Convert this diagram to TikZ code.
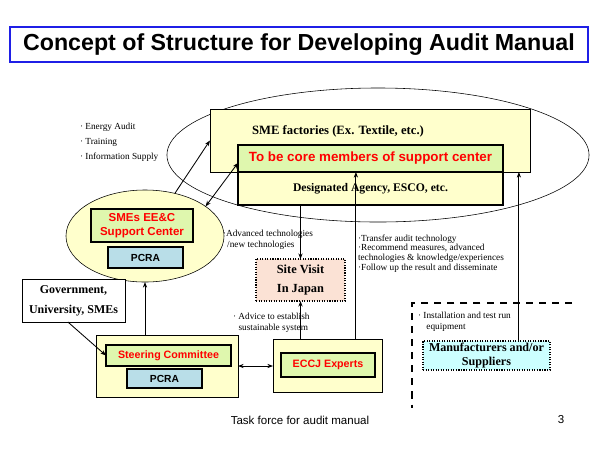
\documentclass[tikz,border=0pt]{standalone}
\usepackage{fontspec}
\setmainfont{Liberation Serif}
\setsansfont{Liberation Sans}
\usetikzlibrary{arrows.meta, positioning, shapes.geometric, calc}
\definecolor{boxyellow}{HTML}{FFFFCC}
\definecolor{boxgreen}{HTML}{DFF7AE}
\definecolor{boxblue}{HTML}{B9DEE8}
\definecolor{boxpeach}{HTML}{FBE2D5}
\definecolor{boxcyan}{HTML}{CCFFFF}
\definecolor{titleblue}{HTML}{1F1FE6}

\begin{document}
\begin{tikzpicture}[
    x=0.025cm, y=-0.025cm,
    every node/.style={inner sep=0pt, outer sep=0pt},
    panel/.style={rectangle, draw, fill=boxyellow},
    member/.style={rectangle, draw, line width=0.8pt, fill=boxgreen, text=red, align=center, font=\sffamily\bfseries\fontsize{7.6}{10}\selectfont},
    pcra/.style={rectangle, draw, line width=0.8pt, fill=boxblue, font=\sffamily\bfseries\fontsize{7.3}{9}\selectfont},
    party/.style={align=center, font=\bfseries\fontsize{8.5}{14.2}\selectfont},
    note/.style={anchor=west, align=left, font=\fontsize{6.6}{7.8}\selectfont},
    arrow/.style={-{Stealth[length=4pt, width=3pt]}, semithick},
    duoarrow/.style={{Stealth[length=4pt, width=3pt]}-{Stealth[length=4pt, width=3pt]}, semithick},
]
    \useasboundingbox (0,0) rectangle (600,450);

    % Title
    \node[draw=titleblue, line width=1pt, minimum width=14.45cm, minimum height=0.875cm,
          font=\sffamily\bfseries\fontsize{16.5}{19}\selectfont] (title) at (299,44.5)
          {Concept of Structure for Developing Audit Manual};

    % SME factories in the big ring
    \node[ellipse, draw, minimum width=10.55cm, minimum height=3.35cm] (ring) at (378,155) {};
    \node[panel, minimum width=8cm, minimum height=1.575cm] (sme) at (370,140.5) {};
    \node[font=\bfseries\fontsize{9}{11}\selectfont] (smetext) at (338,131) {SME factories (Ex. Textile, etc.)};
    \node[member, minimum width=6.625cm, minimum height=0.675cm, font=\sffamily\bfseries\fontsize{9.5}{11}\selectfont] (core) at (370.5,158.5) {To be core members of support center};
    \node[panel, line width=0.8pt, minimum width=6.625cm, minimum height=0.825cm, font=\bfseries\fontsize{8.3}{10}\selectfont] (agency) at (370.5,188.5) {Designated Agency, ESCO, etc.};

    % Support center
    \node[ellipse, draw, fill=boxyellow, minimum width=3.95cm, minimum height=2.3cm] (ctr) at (145,236) {};
    \node[member, minimum width=2.55cm, minimum height=0.825cm, font=\sffamily\bfseries\fontsize{8.2}{10}\selectfont] (support) at (142,225.5) {SMEs EE\&C\\Support Center};
    \node[pcra, minimum width=1.875cm, minimum height=0.525cm] (pcraA) at (145.5,257.5) {PCRA};
    \node[note, anchor=north west, font=\fontsize{6.6}{10.7}\selectfont] (tasks) at (80,123) {· Energy Audit\\· Training\\· Information Supply};

    % Steering committee and experts
    \node[rectangle, draw, fill=white, party, minimum width=2.575cm, minimum height=1.075cm] (gov) at (73.5,300.5) {Government,\\University, SMEs};
    \node[panel, minimum width=3.55cm, minimum height=1.55cm] (steer) at (167,366) {};
    \node[member, minimum width=3.125cm, minimum height=0.525cm] (committee) at (168.5,355.5) {Steering Committee};
    \node[pcra, minimum width=1.875cm, minimum height=0.475cm] (pcraB) at (164.5,378.5) {PCRA};
    \node[panel, minimum width=2.725cm, minimum height=1.325cm] (eccj) at (327.5,365.5) {};
    \node[member, minimum width=2.35cm, minimum height=0.6cm] (experts) at (328,365) {ECCJ Experts};
    \node[rectangle, draw, densely dotted, line width=0.8pt, fill=boxpeach, party, minimum width=2.225cm, minimum height=1.05cm,
          font=\bfseries\fontsize{8.8}{14.2}\selectfont] (site) at (300.5,280) {Site Visit\\In Japan};

    % Manufacturers
    \coordinate (frameA) at (412,408);
    \coordinate (frameB) at (412,303);
    \coordinate (frameC) at (572,303);
    \draw[line width=1.8pt, dash pattern=on 5pt off 4.3pt] (frameC) -- (frameB) -- (frameA);
    \node[rectangle, draw, densely dotted, line width=0.8pt, fill=boxcyan, party, minimum width=3.175cm, minimum height=0.725cm,
          font=\bfseries\fontsize{8.6}{10}\selectfont] (maker) at (486.5,355.5) {Manufacturers and/or\\Suppliers};

    % Notes
    \node[note] (advanced) at (223,239.5) {·Advanced technologies\\\hspace{3pt}/new technologies};
    \node[note] (advice) at (233,323) {· Advice to establish\\\hspace{4pt}sustainable system};
    \node[note, font=\fontsize{6.6}{6.9}\selectfont] (transfer) at (358,253.5) {·Transfer audit technology\\·Recommend measures, advanced\\technologies \& knowledge/experiences\\·Follow up the result and disseminate};
    \node[note] (install) at (418,321.5) {· Installation and test run\\\hspace{6pt}equipment};

    % Arrows
    \draw[arrow] (ctr.55) -- (sme.west);
    \draw[duoarrow] ([yshift=-0.11cm]core.west) -- (ctr.26);
    \draw[arrow] (steer.north -| ctr.south) -- (ctr.south);
    \draw[arrow] ([xshift=-0.14cm]gov.south) -- (committee.west);
    \draw[duoarrow] (steer.east) -- (steer.east -| eccj.west);
    \draw[arrow] (agency.south -| site.north) -- (site.north);
    \draw[arrow] (eccj.north -| site.south) -- (site.south);
    \draw[arrow] ([xshift=0.71cm]eccj.north) -- ([xshift=0.71cm]eccj.north |- core.south);
    \draw[arrow] ([xshift=0.81cm]maker.north) -- ([xshift=0.81cm]maker.north |- sme.south);

    % Footer
    \node[font=\sffamily\fontsize{8.2}{10}\selectfont] (footer) at (300,420) {Task force for audit manual};
    \node[font=\sffamily\fontsize{8.2}{10}\selectfont] (page) at (561,420) {3};
\end{tikzpicture}
\end{document}
